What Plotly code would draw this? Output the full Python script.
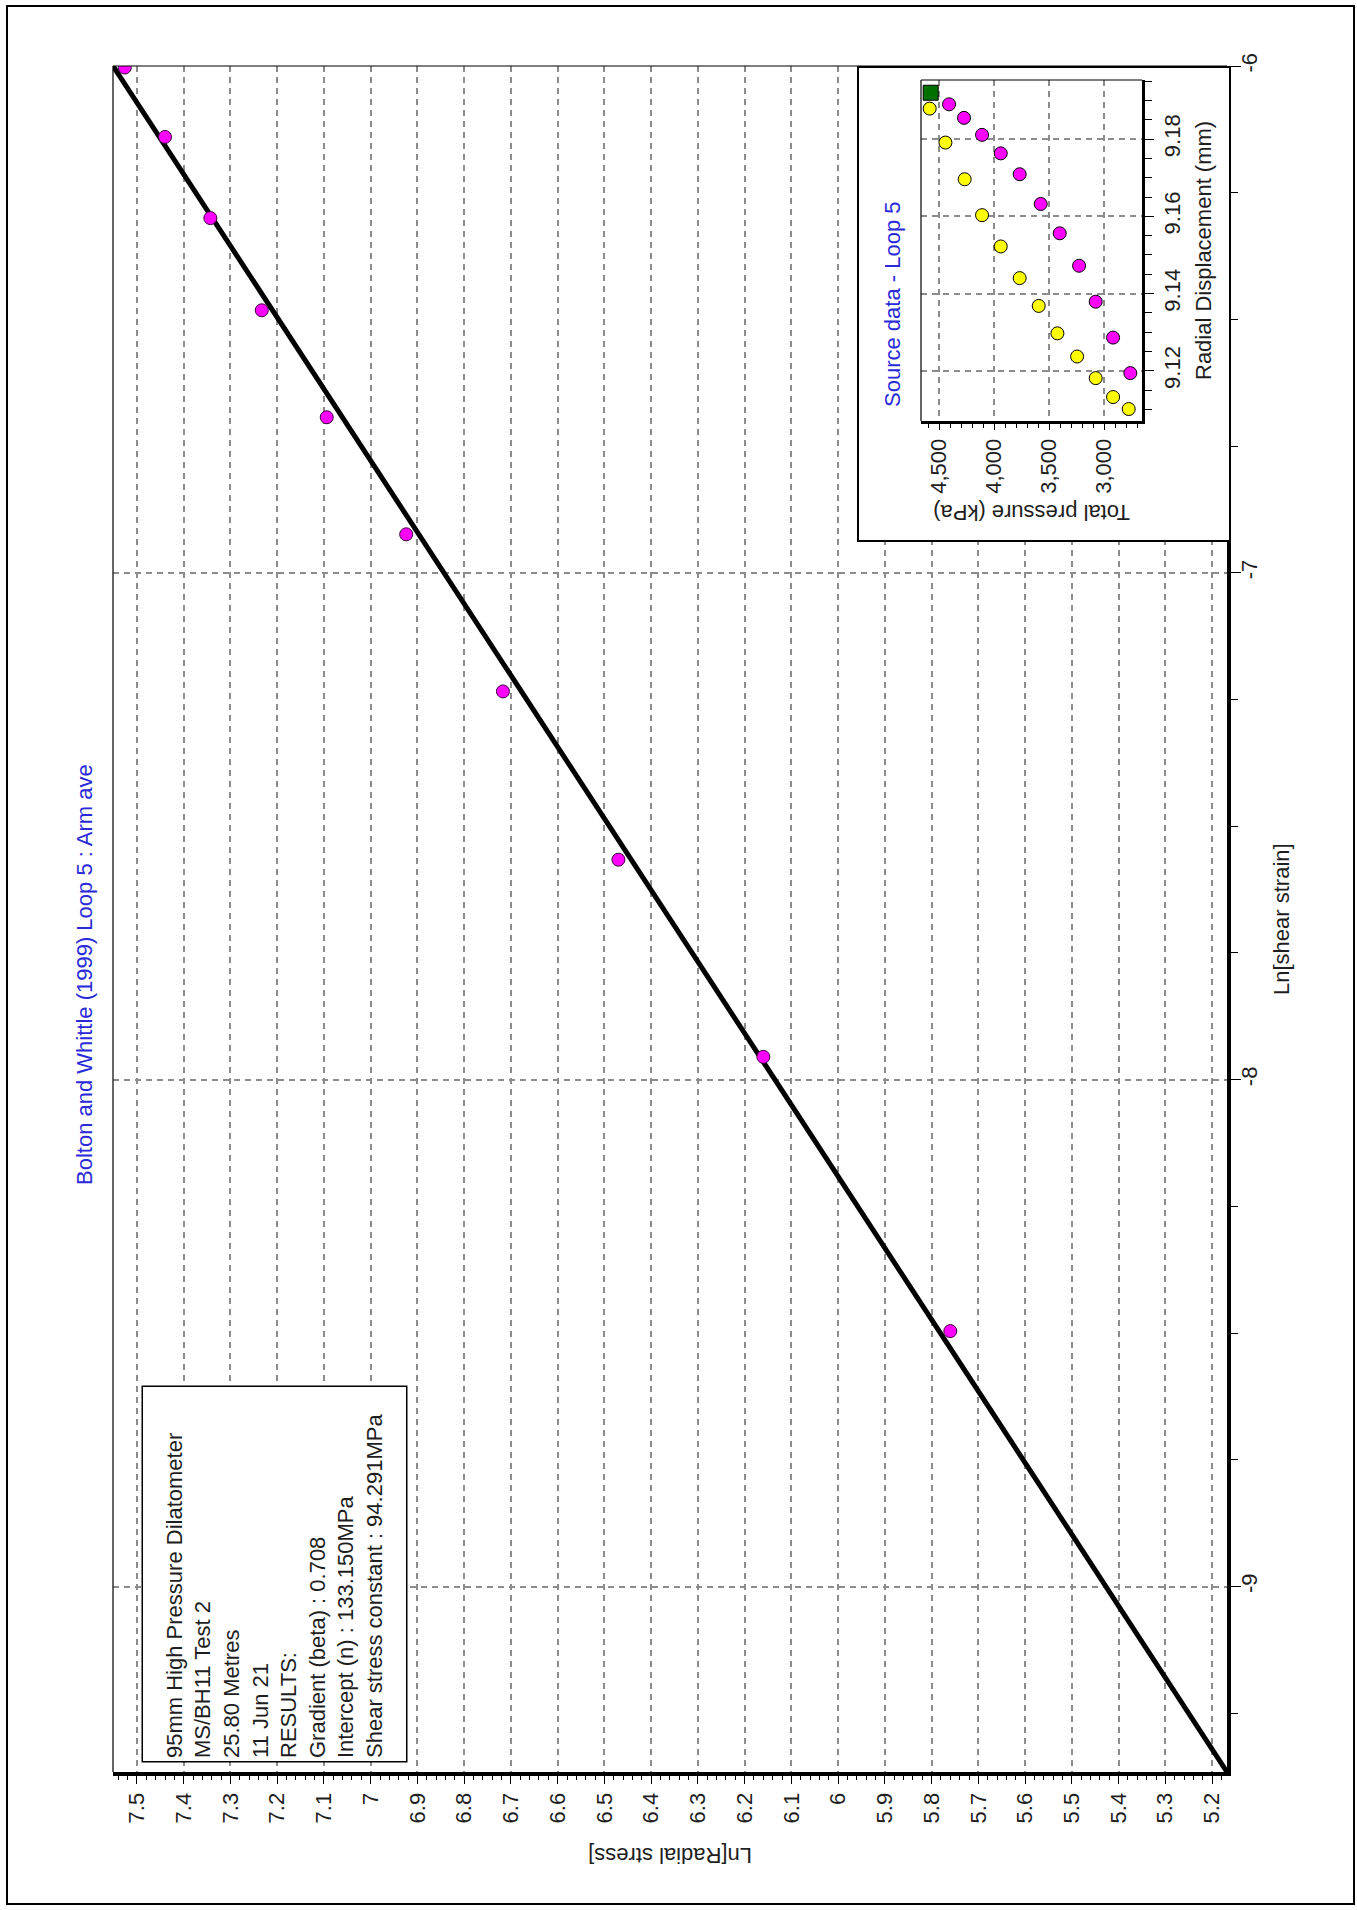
import math
import plotly.graph_objects as go

# ---------------------------------------------------------------
# Data
# ---------------------------------------------------------------
# Bolton & Whittle (1999) transformed points, loop 5 (arm average)
ln_radial_stress = [7.526, 7.440, 7.343, 7.233, 7.094, 6.924, 6.717, 6.470, 6.160, 5.760]
ln_shear_strain = [-6.003, -6.140, -6.300, -6.482, -6.693, -6.924, -7.234, -7.566, -7.955, -8.496]

# fitted power-law parameters
beta = 0.708
intercept_mpa = 133.150
shear_constant_mpa = 94.291
strain_extent = [-9.366, -6.0]

radial_ticks = [7.5, 7.4, 7.3, 7.2, 7.1, 7.0, 6.9, 6.8, 6.7, 6.6, 6.5, 6.4, 6.3,
                6.2, 6.1, 6.0, 5.9, 5.8, 5.7, 5.6, 5.5, 5.4, 5.3, 5.2]
radial_ticktext = ["7.5", "7.4", "7.3", "7.2", "7.1", "7", "6.9", "6.8", "6.7", "6.6",
                   "6.5", "6.4", "6.3", "6.2", "6.1", "6", "5.9", "5.8", "5.7", "5.6",
                   "5.5", "5.4", "5.3", "5.2"]
strain_ticks = [-6, -7, -8, -9]
strain_ticktext = ["-6", "-7", "-8", "-9"]

# source data for loop 5
unload_pressure = [4409, 4273, 4109, 3939, 3767, 3576, 3403, 3227, 3076, 2918, 2761]
unload_disp = [9.1890, 9.1855, 9.1811, 9.1763, 9.1709, 9.1632, 9.1556, 9.1472, 9.1379, 9.1286, 9.1194]
reload_pressure = [4585, 4442, 4267, 4109, 3939, 3767, 3594, 3424, 3245, 3076, 2918, 2776]
reload_disp = [9.1879, 9.1791, 9.1696, 9.1603, 9.1522, 9.1440, 9.1368, 9.1297, 9.1237, 9.1181, 9.1132, 9.1101]
loop_start_pressure = [4576]
loop_start_disp = [9.1920]

pressure_ticks = [3000, 3500, 4000, 4500]
pressure_ticktext = ["3,000", "3,500", "4,000", "4,500"]
disp_ticks = [9.12, 9.14, 9.16, 9.18]
disp_ticktext = ["9.12", "9.14", "9.16", "9.18"]

info_lines = [
    "95mm High Pressure Dilatometer",
    "MS/BH11 Test 2",
    "25.80 Metres",
    "11 Jun 21",
    "RESULTS:",
    f"Gradient (beta) : {beta:.3f}",
    f"Intercept (n) : {intercept_mpa:.3f}MPa",
    f"Shear stress constant : {shear_constant_mpa:.3f}MPa",
]

# fitted line: ln(radial stress) = beta * ln(shear strain) + ln(n)
ln_n = math.log(intercept_mpa * 1000.0)
fit_strain = strain_extent
fit_stress = [beta * s + ln_n for s in fit_strain]

# ---------------------------------------------------------------
# Layout geometry (pixels -> paper)
# ---------------------------------------------------------------
W, H = 1357, 1910
PAP_L, PAP_R, PAP_T, PAP_B = 113, 1235, 66, 1772


def px(x):
    return (x - PAP_L) / (PAP_R - PAP_L)


def py(y):
    return (PAP_B - y) / (PAP_B - PAP_T)


FONT = "Liberation Sans, Arial, Helvetica, sans-serif"
BLUE = "#2a2ad8"
TXT = "#1e1e1e"
GRID = "#8c8c8c"

fig = go.Figure()

# main fitted line and points
fig.add_trace(go.Scatter(
    x=fit_stress, y=fit_strain, mode="lines",
    line=dict(color="black", width=5), xaxis="x", yaxis="y", hoverinfo="skip"))
fig.add_trace(go.Scatter(
    x=ln_radial_stress, y=ln_shear_strain, mode="markers",
    marker=dict(color="#ff00ff", size=13, line=dict(color="#3a003a", width=1)),
    xaxis="x", yaxis="y"))

# white panel behind the source-data chart
fig.add_trace(go.Scatter(
    x=[0, 1, 1, 0, 0], y=[0, 0, 1, 1, 0], mode="lines", fill="toself",
    fillcolor="white", line=dict(color="black", width=4),
    xaxis="x2", yaxis="y2", hoverinfo="skip"))

# source data
fig.add_trace(go.Scatter(
    x=reload_pressure, y=reload_disp, mode="markers",
    marker=dict(color="#ffff00", size=13, line=dict(color="black", width=1)),
    xaxis="x3", yaxis="y3"))
fig.add_trace(go.Scatter(
    x=unload_pressure, y=unload_disp, mode="markers",
    marker=dict(color="#ff00ff", size=13, line=dict(color="black", width=1)),
    xaxis="x3", yaxis="y3"))
fig.add_trace(go.Scatter(
    x=loop_start_pressure, y=loop_start_disp, mode="markers",
    marker=dict(color="#007000", size=15, symbol="square", line=dict(color="black", width=1)),
    xaxis="x3", yaxis="y3"))

tickfont = dict(family=FONT, size=22, color=TXT)

fig.update_layout(
    width=W, height=H, autosize=False,
    margin=dict(l=PAP_L, r=W - PAP_R, t=PAP_T, b=H - PAP_B, pad=0),
    paper_bgcolor="white", plot_bgcolor="white",
    showlegend=False,
    font=dict(family=FONT, size=22, color=TXT),
    xaxis=dict(
        domain=[0, px(1227)], anchor="y",
        range=[fit_stress[1], fit_stress[0]],
        tickmode="array", tickvals=radial_ticks, ticktext=radial_ticktext,
        tickangle=-90, tickfont=tickfont,
        ticks="outside", ticklen=8, tickwidth=1, tickcolor="black",
        minor=dict(dtick=0.02, ticks="outside", ticklen=4, tickwidth=1,
                   tickcolor="black", showgrid=False),
        showgrid=True, gridcolor=GRID, gridwidth=1.5, griddash="6px,5px",
        showline=True, linecolor="black", linewidth=4, zeroline=False,
    ),
    yaxis=dict(
        domain=[0, 1], anchor="x", side="right",
        range=strain_extent,
        tickmode="array", tickvals=strain_ticks, ticktext=strain_ticktext,
        tickangle=-90, tickfont=tickfont, ticklabelstandoff=-10,
        ticks="outside", ticklen=10, tickwidth=1, tickcolor="black",
        minor=dict(dtick=0.25, ticks="outside", ticklen=7, tickwidth=1,
                   tickcolor="black", showgrid=False),
        showgrid=True, gridcolor=GRID, gridwidth=1.5, griddash="6px,5px",
        showline=True, linecolor="black", linewidth=4, zeroline=False,
    ),
    xaxis2=dict(domain=[px(857), px(1231)], anchor="y2", range=[0, 1],
                visible=False, fixedrange=True),
    yaxis2=dict(domain=[py(542), 1], anchor="x2", range=[0, 1],
                visible=False, fixedrange=True),
    xaxis3=dict(
        domain=[px(921), px(1142)], anchor="y3",
        range=[4664, 2655],
        tickmode="array", tickvals=pressure_ticks, ticktext=pressure_ticktext,
        tickangle=-90, tickfont=tickfont,
        ticks="outside", ticklen=6, tickwidth=1, tickcolor="black",
        minor=dict(dtick=100, ticks="outside", ticklen=4, tickwidth=1,
                   tickcolor="black", showgrid=False),
        showgrid=True, gridcolor=GRID, gridwidth=1.5, griddash="6px,5px",
        showline=True, linecolor="black", linewidth=3, zeroline=False,
    ),
    yaxis3=dict(
        domain=[py(421), py(80)], anchor="x3", side="right",
        range=[9.107, 9.1953],
        tickmode="array", tickvals=disp_ticks, ticktext=disp_ticktext,
        tickangle=-90, tickfont=tickfont,
        ticks="outside", ticklen=9, tickwidth=1, tickcolor="black",
        minor=dict(dtick=0.005, ticks="outside", ticklen=7, tickwidth=1,
                   tickcolor="black", showgrid=False),
        showgrid=True, gridcolor=GRID, gridwidth=1.5, griddash="6px,5px",
        showline=True, linecolor="black", linewidth=3, zeroline=False,
    ),
)

# frame lines (thin top/left) and page border
shapes = [
    dict(type="line", xref="paper", yref="paper", x0=0, x1=px(1227), y0=1, y1=1,
         line=dict(color="black", width=1.2), layer="above"),
    dict(type="line", xref="paper", yref="paper", x0=0, x1=0, y0=0, y1=1,
         line=dict(color="black", width=1.2), layer="above"),
    dict(type="line", xref="paper", yref="paper", x0=px(921), x1=px(1142),
         y0=py(80), y1=py(80), line=dict(color="black", width=1.2), layer="above"),
    dict(type="line", xref="paper", yref="paper", x0=px(921), x1=px(921),
         y0=py(421), y1=py(80), line=dict(color="black", width=1.2), layer="above"),
    dict(type="rect", xref="paper", yref="paper", x0=px(7), x1=px(1354),
         y0=py(1904), y1=py(6), line=dict(color="black", width=2), layer="above"),
]
fig.update_layout(shapes=shapes)

ann = [
    dict(text="Bolton and Whittle (1999) Loop 5 : Arm ave", x=px(84), y=py(975),
         textangle=-90, font=dict(family=FONT, size=22, color=BLUE)),
    dict(text="Ln[shear strain]", x=px(1281), y=py(919), textangle=-90,
         font=dict(family=FONT, size=22, color=TXT)),
    dict(text="Ln[Radial stress]", x=px(670), y=py(1856), textangle=180,
         font=dict(family=FONT, size=22, color=TXT)),
    dict(text="<br>".join(info_lines), x=px(274.5), y=py(1574), textangle=-90,
         align="left", valign="middle", width=368, height=257,
         bgcolor="white", bordercolor="black", borderwidth=1.5, borderpad=3,
         font=dict(family=FONT, size=22, color=TXT)),
    dict(text="Source data - Loop 5", x=px(892), y=py(305), textangle=-90,
         font=dict(family=FONT, size=22, color=BLUE)),
    dict(text="Total pressure (kPa)", x=px(1032), y=py(513), textangle=180,
         font=dict(family=FONT, size=22, color=TXT)),
    dict(text="Radial Displacement (mm)", x=px(1203), y=py(251), textangle=-90,
         font=dict(family=FONT, size=22, color=TXT)),
]
for a in ann:
    a.update(xref="paper", yref="paper", showarrow=False,
             xanchor="center", yanchor="middle")
fig.update_layout(annotations=ann)

fig.write_html("out.html")
